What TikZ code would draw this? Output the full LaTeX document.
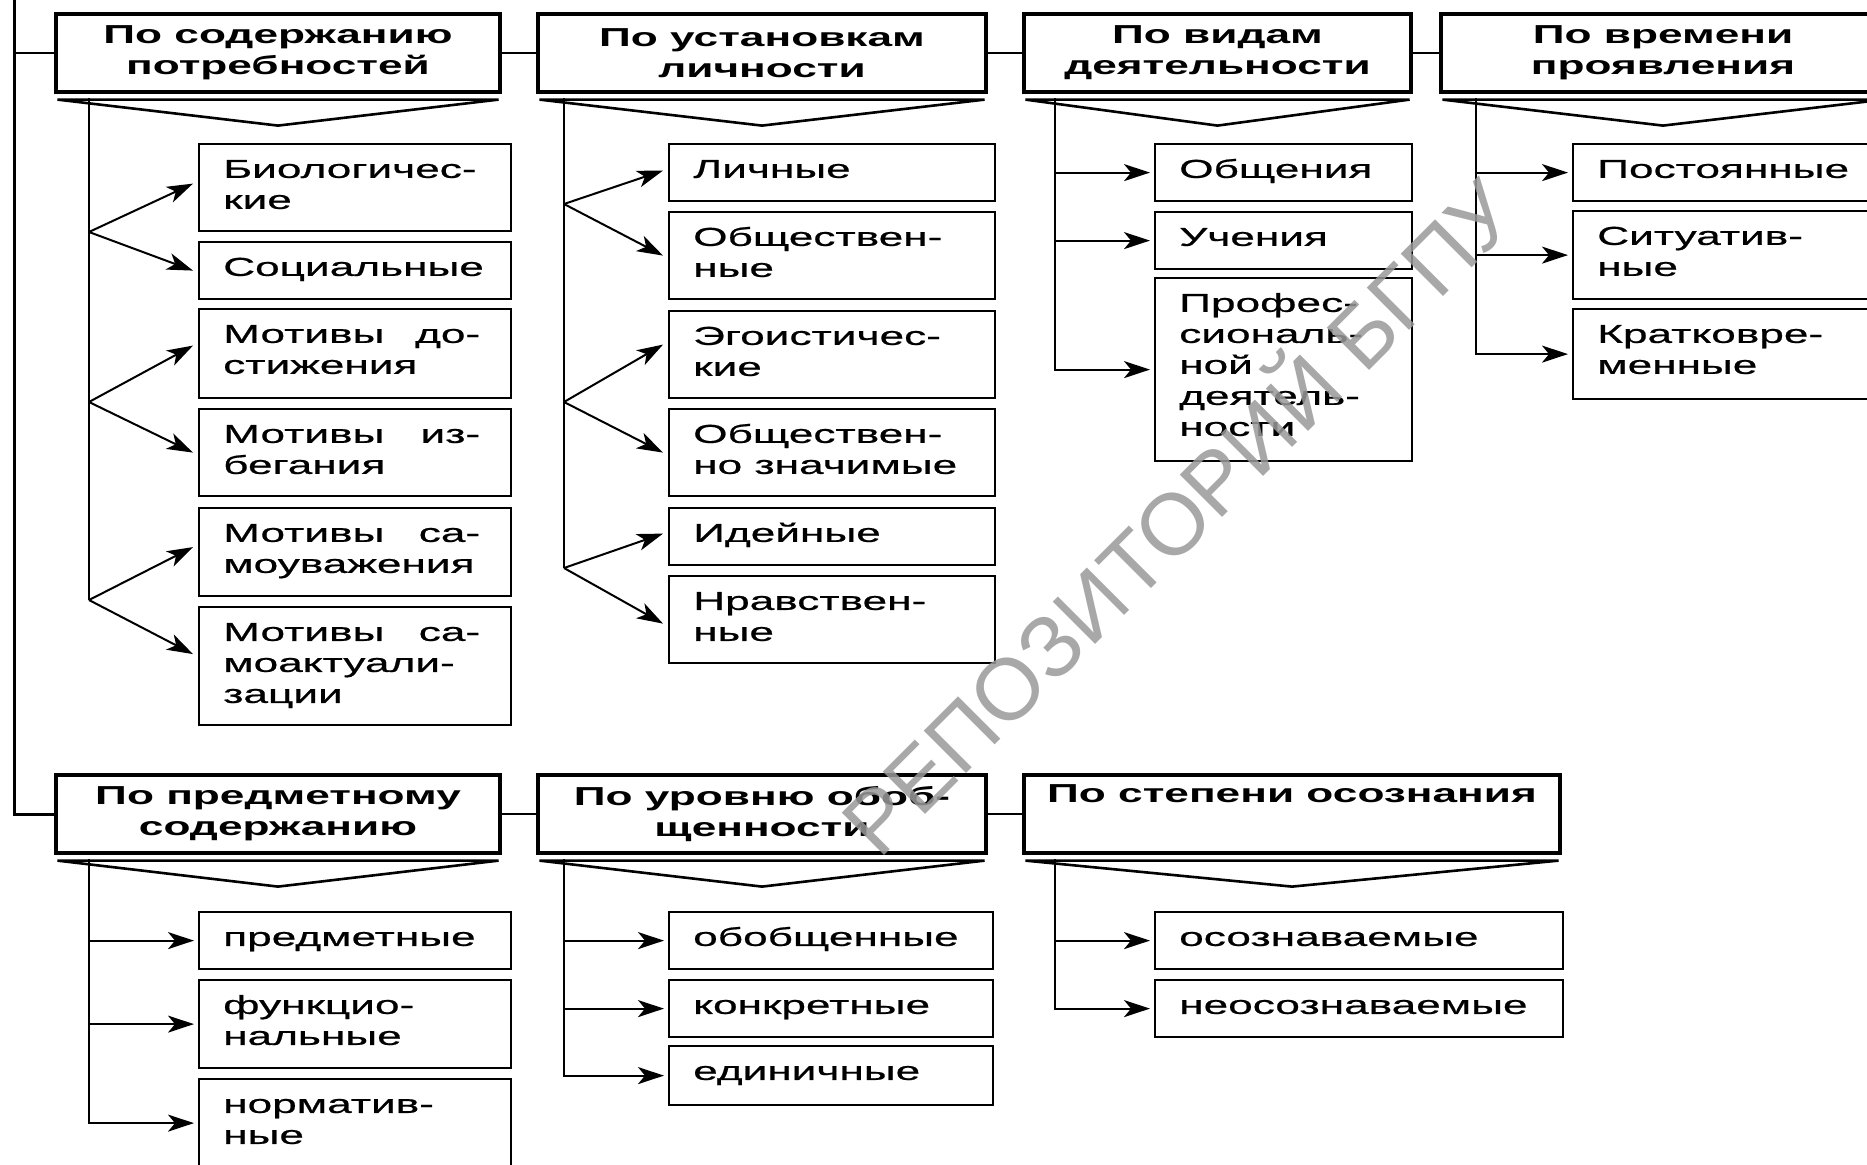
\documentclass[tikz,border=0pt]{standalone}
\usepackage{fontspec}
\setmainfont{Liberation Sans}
\newfontfamily\wideF[FakeStretch=1.7]{Liberation Sans}
\newfontfamily\regF[FakeStretch=1.7, FakeBold=0.7]{Liberation Sans}
\usetikzlibrary{arrows.meta}
\newcommand\cnode[7]{%
  \node[cbox, minimum width=#4pt, minimum height=#5pt, anchor=north west] (#1) at (#2,#3) {};
  \node[#6] (#1T) at ([shift={(25pt,-13pt)}]#1.north west) {\strut #7};
}
\begin{document}
\begin{tikzpicture}[x=1pt,y=-1pt,
  hbox/.style={draw, line width=3.2pt, rectangle, inner sep=0pt, align=center,
    font=\wideF\bfseries\fontsize{26}{31}\selectfont},
  nhbox/.style={hbox},
  cbox/.style={draw, line width=2.2pt, rectangle, inner sep=0pt},
  ctext/.style={anchor=north west, inner sep=0pt, align=left,
    font=\regF\fontsize{26}{31}\selectfont},
  mtext/.style={ctext, text width=257pt},
  nctext/.style={ctext},
  conn/.style={line width=2pt},
  trunk/.style={line width=3pt},
  arr/.style={line width=2pt, -{Stealth[length=26pt, width=17pt, inset=7pt]}},
  chev/.style={line width=2.6pt, line join=miter},
]
\useasboundingbox (0,0) rectangle (1867,1164);
\clip (0,0) rectangle (1867,1164);
\fill[white] (0,0) rectangle (1867,1164);

% ---------- top headers ----------
\node[hbox, minimum width=444pt, minimum height=78pt] (h1) at (278,53) {По содержанию\\потребностей};
\node[hbox, minimum width=448pt, minimum height=78pt] (h2) at (762,53) {По установкам\\личности};
\node[hbox, minimum width=387pt, minimum height=78pt] (h3) at (1217.5,53) {По видам\\деятельности};
\node[hbox, minimum width=444pt, minimum height=78pt] (h4) at (1663,53) {По времени\\проявления};

% ---------- bottom headers ----------
\node[hbox, minimum width=444pt, minimum height=78pt] (b1) at (278,814) {По предметному\\содержанию};
\node[nhbox, minimum width=448pt, minimum height=78pt] (b2) at (762,814) {По уровню обоб-\\щенности};
\node[nhbox, minimum width=536pt, minimum height=78pt] (b3) at (1292,814) {По степени осознания\\\strut};

% chevrons
\foreach \h in {h1,h2,h3,h4,b1,b2,b3}{
  \draw[chev] ([xshift=3pt,yshift=-6pt]\h.south west) -- ([xshift=-3pt,yshift=-6pt]\h.south east)
     -- ([yshift=-32pt]\h.south) -- cycle;
}

% trunk and header links
\coordinate (top) at (14,0);
\draw[trunk] (top) |- (b1.west);
\draw[conn] (top |- h1.west) -- (h1.west);
\draw[conn] (h1.east) -- (h2.west);
\draw[conn] (h2.east) -- (h3.west);
\draw[conn] (h3.east) -- (h4.west);
\draw[conn] (b1.east) -- (b2.west);
\draw[conn] (b2.east) -- (b3.west);

% ---------- column 1 ----------
\cnode{bio}{198}{143}{312}{87}{ctext}{Биологичес-\\кие}
\cnode{soc}{198}{241}{312}{57}{ctext}{Социальные}
\cnode{dost}{198}{308}{312}{89}{mtext}{Мотивы\hfill до-\\стижения}
\cnode{izb}{198}{408}{312}{87}{mtext}{Мотивы\hfill из-\\бегания}
\cnode{sam}{198}{507}{312}{88}{mtext}{Мотивы\hfill са-\\моуважения}
\cnode{akt}{198}{606}{312}{118}{mtext}{Мотивы\hfill са-\\моактуали-\\зации}
\coordinate (v1) at (89,98);
\coordinate (p1a) at (89,232);
\coordinate (p1b) at (89,402);
\coordinate (p1c) at (89,600);
\draw[conn] (v1) -- (p1c);
\draw[arr] (p1a) -- ([xshift=-5pt,yshift=4pt]bio.west);
\draw[arr] (p1a) -- ([xshift=-5pt]soc.west);
\draw[arr] (p1b) -- ([xshift=-5pt,yshift=8pt]dost.west);
\draw[arr] (p1b) -- ([xshift=-5pt]izb.west);
\draw[arr] (p1c) -- ([xshift=-5pt,yshift=5pt]sam.west);
\draw[arr] (p1c) -- ([xshift=-5pt,yshift=12pt]akt.west);

% ---------- column 2 ----------
\cnode{lich}{668}{143}{326}{57}{ctext}{Личные}
\cnode{obsh}{668}{211}{326}{87}{ctext}{Обществен-\\ные}
\cnode{ego}{668}{310}{326}{87}{ctext}{Эгоистичес-\\кие}
\cnode{obzn}{668}{408}{326}{87}{ctext}{Обществен-\\но значимые}
\cnode{idei}{668}{507}{326}{57}{ctext}{Идейные}
\cnode{nrav}{668}{575}{326}{87}{ctext}{Нравствен-\\ные}
\coordinate (v2) at (564,98);
\coordinate (p2a) at (564,204);
\coordinate (p2b) at (564,402);
\coordinate (p2c) at (564,568);
\draw[conn] (v2) -- (p2c);
\draw[arr] (p2a) -- ([xshift=-5pt,yshift=2pt]lich.west);
\draw[arr] (p2a) -- ([xshift=-5pt]obsh.west);
\draw[arr] (p2b) -- ([xshift=-5pt,yshift=10pt]ego.west);
\draw[arr] (p2b) -- ([xshift=-5pt]obzn.west);
\draw[arr] (p2c) -- ([xshift=-5pt,yshift=3pt]idei.west);
\draw[arr] (p2c) -- ([xshift=-5pt,yshift=-4pt]nrav.west);

% ---------- column 3 ----------
\cnode{obshch}{1154}{143}{257}{57}{ctext}{Общения}
\cnode{uch}{1154}{211}{257}{57}{ctext}{Учения}
\cnode{prof}{1154}{277}{257}{183}{ctext}{Профес-\\сиональ-\\ной\\деятель-\\ности}
\coordinate (v3) at (1055,98);
\draw[arr] (v3) |- ([xshift=-4pt]prof.west);
\draw[arr] (v3 |- obshch.west) -- ([xshift=-4pt]obshch.west);
\draw[arr] (v3 |- uch.west) -- ([xshift=-4pt]uch.west);

% ---------- column 4 ----------
\cnode{post}{1572}{143}{313}{57}{ctext}{Постоянные}
\cnode{sit}{1572}{210}{313}{88}{ctext}{Ситуатив-\\ные}
\cnode{krat}{1572}{308}{313}{90}{ctext}{Кратковре-\\менные}
\coordinate (v4) at (1476,98);
\draw[arr] (v4) |- ([xshift=-4pt]krat.west);
\draw[arr] (v4 |- post.west) -- ([xshift=-4pt]post.west);
\draw[arr] (v4 |- sit.west) -- ([xshift=-4pt]sit.west);

% ---------- bottom column 1 ----------
\cnode{pred}{198}{911}{312}{57}{ctext}{предметные}
\cnode{func}{198}{979}{312}{88}{ctext}{функцио-\\нальные}
\cnode{norm}{198}{1078}{312}{100}{ctext}{норматив-\\ные}
\coordinate (w1) at (89,859);
\draw[arr] (w1) |- ([xshift=-4pt,yshift=6pt]norm.west);
\draw[arr] (w1 |- pred.west) -- ([xshift=-4pt]pred.west);
\draw[arr] (w1 |- func.west) -- ([xshift=-4pt]func.west);

% ---------- bottom column 2 ----------
\cnode{obob}{668}{911}{324}{57}{nctext}{обобщенные}
\cnode{konk}{668}{979}{324}{57}{nctext}{конкретные}
\cnode{edin}{668}{1045}{324}{59}{nctext}{единичные}
\coordinate (w2) at (564,859);
\draw[arr] (w2) |- ([xshift=-4pt]edin.west);
\draw[arr] (w2 |- obob.west) -- ([xshift=-4pt]obob.west);
\draw[arr] (w2 |- konk.west) -- ([xshift=-4pt]konk.west);

% ---------- bottom column 3 ----------
\cnode{osoz}{1154}{911}{408}{57}{nctext}{осознаваемые}
\cnode{neos}{1154}{979}{408}{57}{nctext}{неосознаваемые}
\coordinate (w3) at (1055,859);
\draw[arr] (w3) |- ([xshift=-4pt]neos.west);
\draw[arr] (w3 |- osoz.west) -- ([xshift=-4pt]osoz.west);

% ---------- watermark ----------
\node[rotate=45, text=black!40, opacity=0.85, inner sep=0pt,
  font=\fontsize{87}{87}\selectfont] (wm) at (1173,512) {РЕПОЗИТОРИЙ БГПУ};
\end{tikzpicture}
\end{document}
